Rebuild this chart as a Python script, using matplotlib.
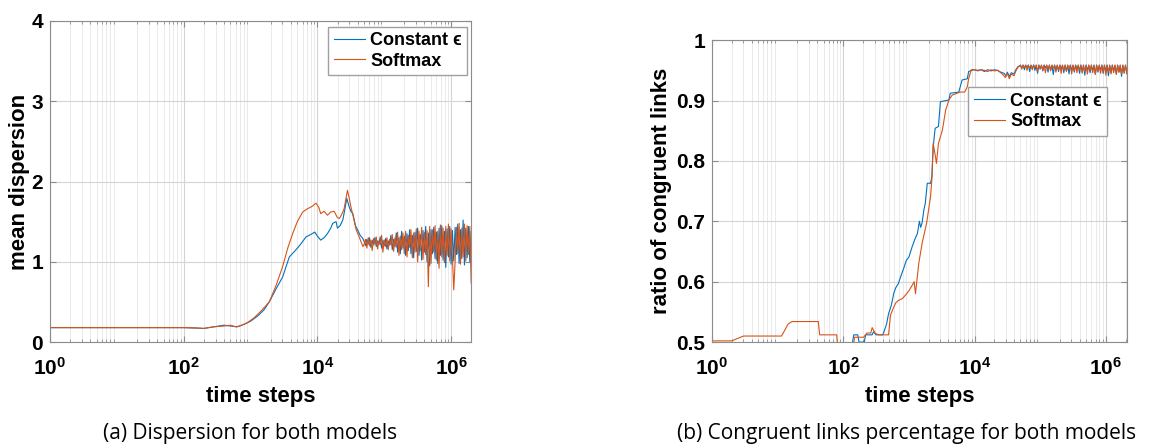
import numpy as np
import matplotlib
matplotlib.use("Agg")
import matplotlib.pyplot as plt
from matplotlib.ticker import NullLocator, LogLocator

plt.rcParams['font.family'] = ['Liberation Sans', 'DejaVu Sans']
plt.rcParams['mathtext.fontset'] = 'custom'
plt.rcParams['mathtext.rm'] = 'Liberation Sans'
plt.rcParams['mathtext.bf'] = 'Liberation Sans:bold'

BLUE = '#0072BD'
ORANGE = '#D95319'
SPINE = '#8c8c8c'

# shared time grid (log10 of time step) for the noisy tail
tail_exp = [4.70, 4.72, 4.74, 4.76, 4.78, 4.80, 4.82, 4.84, 4.86, 4.88,
            4.90, 4.92, 4.94, 4.96, 4.98, 5.00, 5.02, 5.04, 5.06, 5.08,
            5.10, 5.12, 5.14, 5.16, 5.18, 5.20, 5.22, 5.24, 5.26, 5.28,
            5.30, 5.32, 5.34, 5.36, 5.38, 5.40, 5.42, 5.44, 5.46, 5.48,
            5.50, 5.52, 5.54, 5.56, 5.58, 5.60, 5.62, 5.64, 5.66, 5.68,
            5.70, 5.72, 5.74, 5.76, 5.78, 5.80, 5.82, 5.84, 5.86, 5.88,
            5.90, 5.92, 5.94, 5.96, 5.98, 6.00, 6.02, 6.04, 6.06, 6.08,
            6.10, 6.12, 6.14, 6.16, 6.18, 6.20, 6.22, 6.24, 6.26, 6.28,
            6.30, 6.32]

# ---- (a) mean dispersion ----
disp_const_exp = [0.0, 1.0, 2.0, 2.2, 2.3, 2.45, 2.6, 2.7, 2.8, 2.9, 3.0, 3.1, 3.2,
                  3.28, 3.38, 3.48, 3.58, 3.68, 3.75, 3.83, 3.90, 3.96, 4.00, 4.05,
                  4.10, 4.15, 4.20, 4.23, 4.28, 4.30, 4.34, 4.38, 4.41, 4.44, 4.47,
                  4.50, 4.53, 4.57, 4.60, 4.64, 4.68]
disp_const_val = [0.18, 0.18, 0.18, 0.175, 0.17, 0.19, 0.21, 0.20, 0.19, 0.22, 0.26, 0.32, 0.40,
                  0.50, 0.66, 0.81, 1.06, 1.15, 1.22, 1.31, 1.34, 1.37, 1.32, 1.27,
                  1.30, 1.35, 1.42, 1.48, 1.50, 1.42, 1.45, 1.52, 1.65, 1.79, 1.70,
                  1.63, 1.60, 1.45, 1.40, 1.33, 1.29]
disp_const_tail = [1.25, 1.20, 1.28, 1.22, 1.30, 1.18, 1.27, 1.21, 1.30, 1.19,
                   1.26, 1.22, 1.31, 1.17, 1.27, 1.20, 1.29, 1.16, 1.26, 1.21,
                   1.33, 1.15, 1.28, 1.19, 1.36, 1.12, 1.30, 1.10, 1.38, 1.17,
                   1.32, 1.08, 1.35, 1.14, 1.40, 1.10, 1.33, 1.05, 1.37, 1.13,
                   1.42, 1.08, 1.34, 1.02, 1.39, 1.12, 1.44, 1.00, 1.36, 0.95,
                   1.40, 1.10, 1.43, 1.04, 1.37, 0.98, 1.42, 1.08, 1.45, 1.02,
                   1.38, 0.93, 1.41, 1.06, 1.44, 0.97, 1.39, 1.01, 1.43, 1.09,
                   1.47, 0.98, 1.40, 1.04, 1.52, 0.96, 1.42, 1.05, 1.44, 1.00,
                   1.38, 1.10]

disp_soft_exp = [0.0, 1.0, 2.0, 2.2, 2.3, 2.45, 2.6, 2.7, 2.78, 2.84, 2.95, 3.05, 3.15,
                 3.28, 3.38, 3.48, 3.56, 3.63, 3.70, 3.78, 3.85, 3.92, 3.98, 4.02,
                 4.05, 4.10, 4.15, 4.20, 4.25, 4.30, 4.33, 4.37, 4.40, 4.43, 4.45,
                 4.48, 4.50, 4.54, 4.58, 4.63, 4.68]
disp_soft_val = [0.18, 0.18, 0.18, 0.175, 0.17, 0.19, 0.20, 0.21, 0.19, 0.20, 0.24, 0.30, 0.38,
                 0.50, 0.70, 0.94, 1.18, 1.35, 1.50, 1.62, 1.66, 1.69, 1.73, 1.68,
                 1.60, 1.63, 1.58, 1.62, 1.63, 1.55, 1.54, 1.60, 1.66, 1.80, 1.89,
                 1.78, 1.69, 1.55, 1.40, 1.30, 1.19]
disp_soft_tail = [1.22, 1.28, 1.17, 1.30, 1.20, 1.27, 1.14, 1.29, 1.22, 1.31,
                  1.16, 1.26, 1.21, 1.33, 1.12, 1.27, 1.19, 1.30, 1.15, 1.28,
                  1.21, 1.34, 1.13, 1.30, 1.18, 1.37, 1.08, 1.32, 1.15, 1.36,
                  1.10, 1.38, 1.06, 1.33, 1.18, 1.40, 1.05, 1.36, 1.12, 1.41,
                  1.00, 1.38, 1.14, 1.43, 1.03, 1.37, 1.09, 1.39, 0.69, 1.44,
                  0.98, 1.40, 1.12, 1.45, 1.02, 1.38, 0.92, 1.46, 1.06, 1.42,
                  0.99, 1.44, 1.08, 1.47, 1.01, 1.41, 1.05, 0.65, 1.00, 1.43,
                  1.10, 1.48, 0.97, 1.42, 1.06, 1.47, 1.01, 1.45, 1.09, 1.44,
                  0.73, 1.40]

# ---- (b) ratio of congruent links ----
cong_const_exp = [0.0, 1.90, 1.95, 2.14, 2.16, 2.22, 2.24, 2.32, 2.34, 2.44, 2.46, 2.50,
                  2.60, 2.62, 2.66, 2.69, 2.73, 2.77, 2.80, 2.84, 2.88, 2.92, 2.96,
                  3.00, 3.05, 3.09, 3.13, 3.16, 3.18, 3.20, 3.23, 3.25, 3.28, 3.33,
                  3.35, 3.37, 3.40, 3.45, 3.48, 3.61, 3.63, 3.76, 3.81, 3.89, 3.91,
                  3.99, 4.05, 4.10, 4.15, 4.20, 4.25, 4.30, 4.35, 4.40, 4.45, 4.48,
                  4.50, 4.53, 4.56, 4.60, 4.63, 4.66]
cong_const_val = [0.49, 0.49, 0.499, 0.499, 0.512, 0.512, 0.500, 0.500, 0.512, 0.512, 0.517, 0.512,
                  0.512, 0.517, 0.530, 0.547, 0.560, 0.581, 0.590, 0.597, 0.610, 0.622, 0.635,
                  0.641, 0.658, 0.670, 0.680, 0.700, 0.690, 0.697, 0.720, 0.730, 0.763, 0.763,
                  0.774, 0.823, 0.854, 0.857, 0.898, 0.901, 0.912, 0.914, 0.934, 0.936, 0.948,
                  0.951, 0.950, 0.951, 0.948, 0.951, 0.949, 0.951, 0.950, 0.947, 0.945, 0.941,
                  0.947, 0.940, 0.946, 0.944, 0.951, 0.956]
cong_const_tail = [0.958, 0.954, 0.959, 0.951, 0.958, 0.955, 0.959, 0.948, 0.958, 0.953,
                   0.959, 0.950, 0.958, 0.945, 0.959, 0.952, 0.958, 0.949, 0.959, 0.954,
                   0.958, 0.947, 0.959, 0.951, 0.958, 0.943, 0.959, 0.950, 0.958, 0.948,
                   0.959, 0.952, 0.958, 0.946, 0.959, 0.949, 0.958, 0.944, 0.959, 0.950,
                   0.958, 0.947, 0.959, 0.952, 0.958, 0.945, 0.959, 0.948, 0.958, 0.942,
                   0.959, 0.950, 0.958, 0.946, 0.959, 0.949, 0.958, 0.944, 0.959, 0.947,
                   0.958, 0.950, 0.959, 0.945, 0.958, 0.948, 0.959, 0.941, 0.958, 0.946,
                   0.959, 0.949, 0.958, 0.944, 0.959, 0.947, 0.958, 0.940, 0.959, 0.946,
                   0.958, 0.948]

cong_soft_exp = [0.0, 0.30, 0.48, 1.06, 1.16, 1.22, 1.62, 1.64, 1.90, 1.91, 2.16, 2.17,
                 2.31, 2.36, 2.42, 2.44, 2.47, 2.49, 2.55, 2.69, 2.72, 2.77, 2.80,
                 2.84, 2.90, 2.95, 3.00, 3.05, 3.08, 3.10, 3.12, 3.15, 3.20, 3.27,
                 3.33, 3.35, 3.37, 3.40, 3.42, 3.45, 3.48, 3.51, 3.56, 3.61, 3.66,
                 3.78, 3.85, 3.89, 3.91, 3.95, 4.00, 4.05, 4.10, 4.15, 4.20, 4.25,
                 4.30, 4.35, 4.40, 4.44, 4.47, 4.50, 4.53, 4.56, 4.60, 4.63, 4.66]
cong_soft_val = [0.502, 0.502, 0.510, 0.510, 0.530, 0.534, 0.534, 0.512, 0.512, 0.498, 0.498, 0.508,
                 0.508, 0.515, 0.515, 0.524, 0.518, 0.514, 0.512, 0.512, 0.545, 0.558, 0.565,
                 0.569, 0.572, 0.578, 0.585, 0.594, 0.600, 0.580, 0.600, 0.630, 0.663, 0.697,
                 0.741, 0.770, 0.829, 0.810, 0.796, 0.829, 0.840, 0.851, 0.884, 0.901, 0.909,
                 0.914, 0.914, 0.923, 0.936, 0.951, 0.951, 0.949, 0.951, 0.950, 0.948, 0.951,
                 0.949, 0.950, 0.946, 0.942, 0.938, 0.945, 0.936, 0.944, 0.941, 0.949, 0.955]
cong_soft_tail = [0.959, 0.952, 0.958, 0.955, 0.959, 0.950, 0.958, 0.954, 0.959, 0.951,
                  0.958, 0.955, 0.959, 0.948, 0.958, 0.953, 0.959, 0.950, 0.958, 0.946,
                  0.959, 0.952, 0.958, 0.949, 0.959, 0.954, 0.958, 0.947, 0.959, 0.951,
                  0.958, 0.945, 0.959, 0.950, 0.958, 0.948, 0.959, 0.953, 0.958, 0.944,
                  0.959, 0.949, 0.958, 0.946, 0.959, 0.951, 0.958, 0.945, 0.959, 0.948,
                  0.958, 0.944, 0.959, 0.950, 0.958, 0.946, 0.959, 0.943, 0.958, 0.949,
                  0.959, 0.945, 0.958, 0.947, 0.959, 0.942, 0.958, 0.948, 0.959, 0.944,
                  0.958, 0.946, 0.959, 0.943, 0.958, 0.947, 0.959, 0.944, 0.958, 0.945,
                  0.959, 0.944]

legend_labels = ['Constant \u03f5', 'Softmax']
xtick_vals = [1, 1e2, 1e4, 1e6]
xtick_labels = ['$\\mathbf{10^{0}}$', '$\\mathbf{10^{2}}$', '$\\mathbf{10^{4}}$', '$\\mathbf{10^{6}}$']


def series(exps, vals, tail_vals):
    t = 10 ** np.array(list(exps) + tail_exp)
    return t, np.array(list(vals) + tail_vals)


def style_axes(ax, xmax):
    ax.set_xscale('log')
    ax.set_xlim(1, xmax)
    ax.set_xticks(xtick_vals)
    ax.set_xticklabels(xtick_labels)
    ax.xaxis.set_minor_locator(LogLocator(base=10, subs=np.arange(2, 10), numticks=20))
    ax.yaxis.set_minor_locator(NullLocator())
    ax.grid(True, which='major', color='#d4d4d4', lw=0.8)
    ax.grid(True, which='minor', axis='x', color='#e6e6e6', lw=0.6)
    ax.set_axisbelow(True)
    ax.tick_params(which='both', direction='in', top=True, right=True, color=SPINE)
    ax.tick_params(which='major', length=4, labelsize=15)
    ax.tick_params(axis='y', which='major', pad=5)
    ax.tick_params(axis='x', which='major', pad=11)
    ax.tick_params(which='minor', length=2)
    for s in ax.spines.values():
        s.set_color(SPINE)
        s.set_linewidth(0.8)
    for lab in ax.get_yticklabels():
        lab.set_fontweight('bold')
    ax.set_xlabel('time steps', fontsize=16, fontweight='bold', labelpad=5)


def add_legend(ax, anchor):
    ax.legend(loc='upper right', bbox_to_anchor=anchor, fancybox=False, framealpha=1,
              edgecolor='#a0a0a0', prop={'weight': 'bold', 'size': 13}, handlelength=1.75,
              handletextpad=0.25, borderpad=0.3, labelspacing=0.2, borderaxespad=0)


fig = plt.figure(figsize=(11.51, 4.46), dpi=100)

# (a)
ax1 = fig.add_axes([0.0434, 0.233, 0.366, 0.720])
t, v = series(disp_const_exp, disp_const_val, disp_const_tail)
ax1.plot(t, v, color=BLUE, lw=0.8, label=legend_labels[0])
t, v = series(disp_soft_exp, disp_soft_val, disp_soft_tail)
ax1.plot(t, v, color=ORANGE, lw=0.8, label=legend_labels[1])
ax1.set_ylim(0, 4)
ax1.set_yticks([0, 1, 2, 3, 4])
ax1.set_yticklabels(['0', '1', '2', '3', '4'])
style_axes(ax1, 2.0e6)
ax1.set_ylabel('mean dispersion', fontsize=16, fontweight='bold', labelpad=1)
add_legend(ax1, (0.99, 0.982))

# (b)
ax2 = fig.add_axes([0.6186, 0.233, 0.3605, 0.677])
t, v = series(cong_const_exp, cong_const_val, cong_const_tail)
ax2.plot(t, v, color=BLUE, lw=0.8, label=legend_labels[0])
t, v = series(cong_soft_exp, cong_soft_val, cong_soft_tail)
ax2.plot(t, v, color=ORANGE, lw=0.8, label=legend_labels[1])
ax2.set_ylim(0.5, 1)
ax2.set_yticks([0.5, 0.6, 0.7, 0.8, 0.9, 1.0])
ax2.set_yticklabels(['0.5', '0.6', '0.7', '0.8', '0.9', '1'])
style_axes(ax2, 2.1e6)
ax2.set_ylabel('ratio of congruent links', fontsize=16, fontweight='bold', labelpad=3)
add_legend(ax2, (0.952, 0.844))

fig.text(0.217, 0.029, '(a) Dispersion for both models', ha='center', va='center',
         fontsize=15, family=['Open Sans', 'DejaVu Sans'])
fig.text(0.788, 0.029, '(b) Congruent links percentage for both models', ha='center',
         va='center', fontsize=15, family=['Open Sans', 'DejaVu Sans'])

fig.savefig('out.png', dpi=100)
